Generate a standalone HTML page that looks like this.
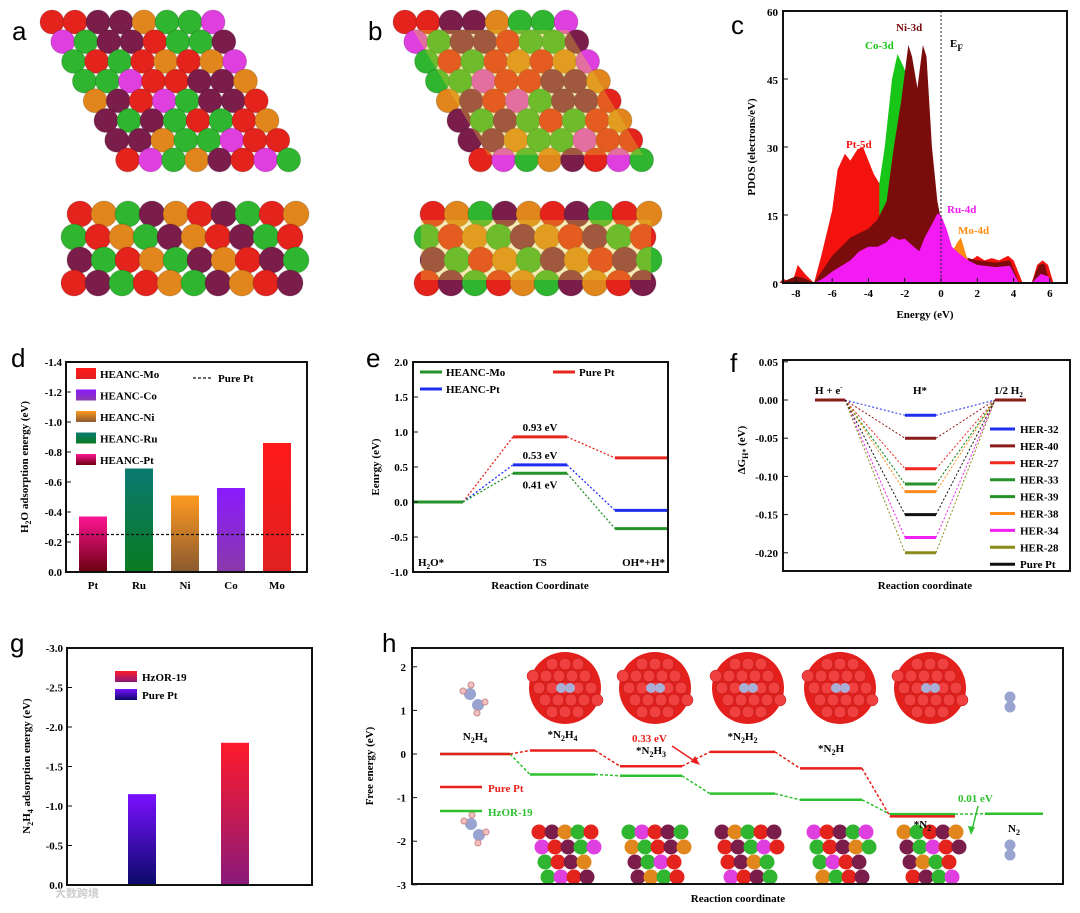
<!DOCTYPE html>
<html><head><meta charset="utf-8"><style>
body{margin:0;background:#fff;}
svg{display:block;font-family:"Liberation Serif","Noto Serif CJK SC",serif;}
.t{font-weight:bold;font-size:11px;}
.let{font-family:"Liberation Sans",sans-serif;font-size:26px;}
</style></head><body>
<svg id="fig" width="1080" height="913" viewBox="0 0 1080 913" xmlns="http://www.w3.org/2000/svg"></svg>
<script>
// ---------- panel c data ----------
const cRedE=[-8.9,-8.7,-8.5,-8.2,-7.9,-7.5,-7,-6.6,-6.3,-6,-5.7,-5.3,-5,-4.6,-4.3,-4,-3.7,-3.4,-3.1,-2.9,-2,-1,0,0.5,1,1.5,2,2.4,2.8,3.2,3.7,4,4.5,5.0,5.3,5.6,5.9,6.2];
const cRedV=[0,1,0.5,0,4,2,0,6,11,16,25,28.5,27,29.5,30,27,24,22,23,23.5,22,20,10,7,7,4.5,6,5,5.5,5,6,5,0,0,4,5,4,0];
const cCoE=[-3.4,-3.1,-2.7,-2.4,-2.1,-1.9,-1.7];
const cCoV=[22,30,45,50.5,48,46,20];
const cNiE=[-8.9,-8,-7.5,-7,-6,-5,-4,-3.5,-3,-2.6,-2.2,-1.8,-1.6,-1.3,-1,-0.8,-0.5,-0.2,0,0.5,1,2,3,3.8,4.3,5.0,5.4,5.7,6];
const cNiV=[0,1.5,1,0,6,10,12,14,18,30,40,52.5,50,43,52.5,50,30,18,14,7,6,5,4.5,5,0,0,4,4.3,0];
const cRuE=[-8.9,-7,-6.5,-6,-5,-4.5,-4,-3.5,-3,-2.7,-2.3,-2,-1.5,-1.2,-0.9,-0.5,-0.2,0,0.3,0.6,1,1.5,2,3,3.8,4.3,5,5.5,5.9,6.1];
const cRuV=[0,0,1,2.5,5,7,8,8,9,10.3,9.5,9.8,8,7,10,13,15.3,15,12,8,6.5,5,4,3.5,3.8,0,0,2,1.5,0];
const cMoE=[0.5,0.7,0.9,1.1,1.4,1.6];
const cMoV=[6,7.5,9,10,6,4];
const cTicksX=[-8,-6,-4,-2,0,2,4,6];
const cTicksY=[0,15,30,45,60];
// ---------- panel d data ----------
const dCats=["Pt","Ru","Ni","Co","Mo"];
const dVals=[-0.37,-0.69,-0.51,-0.56,-0.86];
const dRef=-0.25;
const dTicks=[0,-0.2,-0.4,-0.6,-0.8,-1.0,-1.2,-1.4];
const dLegend=["HEANC-Mo","HEANC-Co","HEANC-Ni","HEANC-Ru","HEANC-Pt"];
// ---------- panel e data ----------
const eSteps=["H2O*","TS","OH*+H*"];
const eMo=[0,0.41,-0.38];
const ePtH=[0,0.53,-0.12];
const ePure=[0,0.93,0.63];
const eTicks=[2.0,1.5,1.0,0.5,0.0,-0.5,-1.0];
// ---------- panel f data ----------
const fNames=["HER-32","HER-40","HER-27","HER-33","HER-39","HER-38","HER-34","HER-28","Pure Pt"];
const fVals=[-0.02,-0.05,-0.09,-0.11,-0.11,-0.12,-0.18,-0.20,-0.15];
const fTicks=[0.05,0,-0.05,-0.10,-0.15,-0.20];
// ---------- panel g data ----------
const gCats=["Pure Pt","HzOR-19"];
const gVals=[-1.15,-1.8];
const gTicks=[0,-0.5,-1.0,-1.5,-2.0,-2.5,-3.0];
// ---------- panel h data ----------
const hSteps=["N2H4","*N2H4","*N2H3","*N2H2","*N2H","*N2","N2"];
const hPure=[0,0.08,-0.28,0.05,-0.33,-1.43];
const hHz=[0,-0.47,-0.5,-0.91,-1.05,-1.38,-1.37];
const hTicks=[2,1,0,-1,-2,-3];

const NS="http://www.w3.org/2000/svg";
const svg=document.getElementById('fig');
function mk(tag,attrs,parent){const e=document.createElementNS(NS,tag);for(const k in attrs)e.setAttribute(k,attrs[k]);(parent||svg).appendChild(e);return e;}
function txt(x,y,s,cls,extra,parent){const e=mk('text',Object.assign({x:x,y:y,class:cls||'t'},extra||{}),parent);e.textContent=s;return e;}
function sub(parent,s){parent.innerHTML=s;}

const defs=mk('defs',{});
function grad(id,top,bot){const g=mk('linearGradient',{id:id,x1:0,y1:0,x2:0,y2:1},defs);mk('stop',{offset:0,'stop-color':top},g);mk('stop',{offset:1,'stop-color':bot},g);}
grad('gPt','#ff1493','#6a0010');grad('gRu','#0a7a72','#0a7a20');grad('gNi','#ff9a20','#8a5a30');grad('gCo','#8a1aff','#8a3aaa');grad('gMo','#ff1a1a','#e02020');
grad('gHz','#ff1a2a','#8a1a7a');grad('gPP','#7a10ff','#0a0a6a');

// ---------- panels a & b ----------
const atomCols=['#e3231c','#2fb52f','#7b1d4b','#e03fe0','#e0861c','#e3231c','#2fb52f','#7b1d4b'];
function slab(ox,name,overlay){
  const g=mk('g',{});
  
  
  for(let r=0;r<8;r++)for(let c=0;c<8;c++){
    const col=atomCols[(r*3+c*5+(r*c)%3)%8];
    mk('circle',{cx:ox+52+c*23+r*10.8,cy:22+r*19.7,r:12,fill:col,stroke:'rgba(0,0,0,0.15)'},g);
  }
  for(let r=0;r<4;r++)for(let c=0;c<10;c++){
    const col=atomCols[(r*5+c*3+(r+c)%2)%8];
    mk('circle',{cx:ox+80+c*24-(r%2)*6,cy:214+r*23,r:13,fill:col,stroke:'rgba(0,0,0,0.15)'},g);
  }
  if(overlay){
    mk('path',{d:`M${ox+60} 30 L${ox+215} 30 L${ox+290} 155 L${ox+135} 155 Z`,fill:'rgba(230,200,40,0.35)'},g);
    mk('rect',{x:ox+68,y:220,width:230,height:60,fill:'rgba(230,200,40,0.35)'},g);
  }
}
slab(0,'structure-a',false);
slab(353,'structure-b',true);
let L;
L=txt(12,40,'a','let');
L=txt(368,40,'b','let');

// ---------- panel c ----------
(function(){
  const X=e=>941+e*18.14, Y=v=>283-v*4.533;
  const g=mk('g',{});
  function area(E,V,fill,name){
    let d=`M${X(E[0])} ${Y(0)}`;E.forEach((e,i)=>d+=` L${X(e)} ${Y(V[i])}`);d+=` L${X(E[E.length-1])} ${Y(0)} Z`;
    const p=mk('path',{d:d,fill:fill},g);
  }
  area(cRedE,cRedV,'#f4120e','pdos-pt-5d');
  area(cCoE,cCoV,'#17c617','pdos-co-3d');
  area(cNiE,cNiV,'#7a0c0c','pdos-ni-3d');
  area(cMoE,cMoV,'#ff8c10','pdos-mo-4d');
  area(cRuE,cRuV,'#f41af4','pdos-ru-4d');
  mk('line',{x1:X(0),y1:11,x2:X(0),y2:283,stroke:'#222','stroke-dasharray':'2,2'},g);
  mk('rect',{x:783,y:11,width:284,height:272,fill:'none',stroke:'#111','stroke-width':2},g);
  cTicksX.forEach(t=>{mk('line',{x1:X(t),y1:283,x2:X(t),y2:278,stroke:'#111'},g);const e=txt(X(t),297,t,'t',{'text-anchor':'middle','font-size':13});});
  cTicksY.forEach(t=>{mk('line',{x1:783,y1:Y(t),x2:788,y2:Y(t),stroke:'#111'},g);const e=txt(778,Y(t)+5,t,'t',{'text-anchor':'end','font-size':13});});
  let e=txt(925,318,'Energy (eV)','t',{'text-anchor':'middle','font-size':16});
  e=txt(0,0,'PDOS (electrons/eV)','t',{'text-anchor':'middle','font-size':15,transform:'translate(755,147) rotate(-90)'});
  e=txt(896,31,'Ni-3d','t',{fill:'#7a0c0c','font-size':15});
  e=txt(865,49,'Co-3d','t',{fill:'#17c617','font-size':15});
  e=txt(846,148,'Pt-5d','t',{fill:'#f4120e','font-size':15});
  e=txt(947,213,'Ru-4d','t',{fill:'#f41af4','font-size':15});
  e=txt(958,234,'Mo-4d','t',{fill:'#ff8c10','font-size':15});
  e=txt(950,47,'E','t',{'font-size':14});sub(e,'E<tspan font-size="9" dy="4">F</tspan>');
  e=txt(731,34,'c','let');
})();

// ---------- panel d ----------
(function(){
  const Y=v=>572-(-v)/1.4*210;
  const g=mk('g',{});
  const fills=['url(#gPt)','url(#gRu)','url(#gNi)','url(#gCo)','url(#gMo)'];
  dCats.forEach((c,i)=>{const cx=93+i*46;const b=mk('rect',{x:cx-14,y:Y(dVals[i]),width:28,height:572-Y(dVals[i]),fill:fills[i]},g);
    const t=txt(cx,589,c,'t',{'text-anchor':'middle','font-size':12});});
  const rl=mk('line',{x1:66,y1:Y(dRef),x2:307,y2:Y(dRef),stroke:'#111','stroke-dasharray':'3,2','stroke-width':1.3},g);
  mk('rect',{x:66,y:362,width:241,height:210,fill:'none',stroke:'#111','stroke-width':2},g);
  dTicks.forEach(t=>{mk('line',{x1:66,y1:Y(t),x2:71,y2:Y(t),stroke:'#111'},g);const e=txt(62,Y(t)+4,t.toFixed(1),'t',{'text-anchor':'end'});});
  const lf=['url(#gMo)','url(#gCo)','url(#gNi)','url(#gRu)','url(#gPt)'];
  dLegend.forEach((n,i)=>{const y=374+i*21.5;const le=mk('g',{},g);
    mk('rect',{x:76,y:y-6,width:20,height:11,fill:lf[i]},le);txt(100,y+4,n,'t',{'font-size':11},le);});
  mk('line',{x1:193,y1:378,x2:213,y2:378,stroke:'#111','stroke-dasharray':'3,2','stroke-width':1.3},g);
  let e=txt(218,382,'Pure Pt','t',{'font-size':11});
  e=txt(0,0,'','t',{'text-anchor':'middle','font-size':12,transform:'translate(28,467) rotate(-90)'});sub(e,'H<tspan font-size="8" dy="3">2</tspan><tspan dy="-3">O adsorption energy (eV)</tspan>');
  e=txt(11,367,'d','let');
})();

// ---------- panel e ----------
(function(){
  const Y=v=>362+(2-v)/3*210;
  const xs=[[413,463],[513,567],[615,668]];
  const g=mk('g',{});
  const series=[[ePure,'#e8261e','pure-pt'],[ePtH,'#1f2ff0','heanc-pt'],[eMo,'#25922a','heanc-mo']];
  series.forEach(([vals,col,nm])=>{
    vals.forEach((v,i)=>{const l=mk('line',{x1:xs[i][0],y1:Y(v),x2:xs[i][1],y2:Y(v),stroke:col,'stroke-width':3},g);
      if(i>0)mk('line',{x1:xs[i-1][1],y1:Y(vals[i-1]),x2:xs[i][0],y2:Y(v),stroke:col,'stroke-dasharray':'2,2','stroke-width':1.3},g);});
  });
  let e=txt(540,Y(ePure[1])-6,ePure[1].toFixed(2)+' eV','t',{'text-anchor':'middle','font-size':11});
  e=txt(540,Y(ePtH[1])-6,ePtH[1].toFixed(2)+' eV','t',{'text-anchor':'middle','font-size':11});
  e=txt(540,Y(eMo[1])+15,eMo[1].toFixed(2)+' eV','t',{'text-anchor':'middle','font-size':11});
  mk('rect',{x:413,y:362,width:255,height:210,fill:'none',stroke:'#111','stroke-width':2},g);
  eTicks.forEach(t=>{mk('line',{x1:413,y1:Y(t),x2:418,y2:Y(t),stroke:'#111'},g);const e=txt(408,Y(t)+4,t.toFixed(1),'t',{'text-anchor':'end'});});
  e=txt(418,566,'','t');sub(e,'H<tspan font-size="7" dy="3">2</tspan><tspan dy="-3">O*</tspan>');
  e=txt(540,566,'TS','t',{'text-anchor':'middle'});
  e=txt(665,566,'OH*+H*','t',{'text-anchor':'end'});
  e=txt(540,589,'Reaction Coordinate','t',{'text-anchor':'middle','font-size':13});
  e=txt(0,0,'Eenrgy (eV)','t',{'text-anchor':'middle','font-size':13,transform:'translate(379,467) rotate(-90)'});
  const leg=[[420,372,'#25922a','HEANC-Mo'],[420,389,'#1f2ff0','HEANC-Pt'],[553,372,'#e8261e','Pure Pt']];
  leg.forEach(([x,y,c,n])=>{const le=mk('g',{},g);
    mk('line',{x1:x,y1:y,x2:x+22,y2:y,stroke:c,'stroke-width':3},le);txt(x+26,y+4,n,'t',{},le);});
  e=txt(366,367,'e','let');
})();

// ---------- panel f ----------
(function(){
  const Y=v=>400-v/0.05*38.2;
  const cols=['#1f2ff0','#8b1a1a','#f0281e','#25922a','#25922a','#ff8c1a','#f020f0','#8b8b1a','#111'];
  const g=mk('g',{});
  fVals.forEach((v,i)=>{
    mk('line',{x1:845,y1:Y(0),x2:905,y2:Y(v),stroke:cols[i],'stroke-dasharray':'2,2'},g);
    mk('line',{x1:936,y1:Y(v),x2:995,y2:Y(0),stroke:cols[i],'stroke-dasharray':'2,2'},g);
    const l=mk('line',{x1:905,y1:Y(v),x2:936,y2:Y(v),stroke:cols[i],'stroke-width':3},g);
    const le=mk('g',{},g);
    const y=429+i*16.9;mk('line',{x1:990,y1:y,x2:1015,y2:y,stroke:cols[i],'stroke-width':3},le);txt(1020,y+4,fNames[i],'t',{'font-size':11},le);
  });
  mk('line',{x1:815,y1:Y(0),x2:845,y2:Y(0),stroke:'#8b1a1a','stroke-width':3},g);
  mk('line',{x1:995,y1:Y(0),x2:1026,y2:Y(0),stroke:'#8b1a1a','stroke-width':3},g);
  mk('rect',{x:783,y:360,width:287,height:211,fill:'none',stroke:'#111','stroke-width':2},g);
  fTicks.forEach(t=>{mk('line',{x1:783,y1:Y(t),x2:788,y2:Y(t),stroke:'#111'},g);const e=txt(778,Y(t)+4,t.toFixed(2),'t',{'text-anchor':'end','font-size':10});});
  let e=txt(815,394,'','t');sub(e,'H + e<tspan font-size="7" dy="-5">-</tspan>');
  e=txt(920,394,'H*','t',{'text-anchor':'middle'});
  e=txt(994,394,'','t');sub(e,'1/2 H<tspan font-size="7" dy="3">2</tspan>');
  e=txt(925,589,'Reaction coordinate','t',{'text-anchor':'middle','font-size':13});
  e=txt(0,0,'','t',{'text-anchor':'middle','font-size':13,transform:'translate(745,450) rotate(-90)'});sub(e,'ΔG<tspan font-size="8" dy="3">H*</tspan><tspan dy="-3"> (eV)</tspan>');
  e=txt(730,372,'f','let');
})();

// ---------- panel g ----------
(function(){
  const Y=v=>885-(-v)/3*237;
  const g=mk('g',{});
  const fills=['url(#gPP)','url(#gHz)'];const xs=[128,221];
  gCats.forEach((c,i)=>{const b=mk('rect',{x:xs[i],y:Y(gVals[i]),width:28,height:885-Y(gVals[i]),fill:fills[i]},g);});
  mk('rect',{x:67,y:648,width:245,height:237,fill:'none',stroke:'#111','stroke-width':2},g);
  gTicks.forEach(t=>{mk('line',{x1:67,y1:Y(t),x2:72,y2:Y(t),stroke:'#111'},g);const e=txt(63,Y(t)+4,t.toFixed(1),'t',{'text-anchor':'end'});});
  [['url(#gHz)','HzOR-19',677],['url(#gPP)','Pure Pt',695]].forEach(([f,n,y])=>{const le=mk('g',{},g);
    mk('rect',{x:115,y:y-6,width:22,height:11,fill:f},le);txt(142,y+4,n,'t',{'font-size':12},le);});
  let e=txt(0,0,'','t',{'text-anchor':'middle','font-size':12,transform:'translate(30,766) rotate(-90)'});sub(e,'N<tspan font-size="8" dy="3">2</tspan><tspan dy="-3">H</tspan><tspan font-size="8" dy="3">4</tspan><tspan dy="-3"> adsorption energy (eV)</tspan>');
  e=txt(10,652,'g','let');
  e=txt(55,897,'大数跨境','t',{'font-family':'"Noto Sans CJK SC",sans-serif','font-size':20,fill:'#ccc'});
})();

// ---------- panel h ----------
(function(){
  const Y=v=>754-v*43.6;
  const xs=[[440,510],[530,595],[620,682],[710,775],[800,862],[890,955],[985,1043]];
  const g=mk('g',{});
  [565,655,748,840,930].forEach((cx,i)=>{
    const s=mk('g',{},g);
    mk('circle',{cx:cx,cy:688,r:36,fill:'#e3201c'},s);
    for(let a=-2;a<=2;a++)for(let b=-2;b<=2;b++)if(a*a+b*b<6)mk('circle',{cx:cx+a*13+(b%2)*6,cy:688+b*12,r:6,fill:'#f04040',stroke:'#b01010','stroke-width':0.5},s);
    mk('circle',{cx:cx-4,cy:688,r:5,fill:'#a8b0d8'},s);mk('circle',{cx:cx+5,cy:688,r:5,fill:'#a8b0d8'},s);
    const b2=mk('g',{},g);
    for(let r=0;r<4;r++)for(let c=0;c<5-Math.floor(r/2);c++){const col=atomCols[(r*3+c*2+i)%8];mk('circle',{cx:cx-26+c*13+r*3,cy:832+r*15,r:7.5,fill:col},b2);}
  });
  [[475,700],[476,830],[1010,702],[1010,850]].forEach(([x,y],i)=>{
    const m=mk('g',{},g);
    if(i<2){mk('circle',{cx:x-5,cy:y-6,r:6,fill:'#9aa4d0'},m);mk('circle',{cx:x+3,cy:y+5,r:6,fill:'#9aa4d0'},m);[[-12,-9],[-4,-15],[10,2],[2,13]].forEach(([dx,dy])=>mk('circle',{cx:x+dx,cy:y+dy,r:3,fill:'#f2c0c0',stroke:'#c88'},m));}
    else{mk('circle',{cx:x,cy:y-5,r:5.5,fill:'#9aa4d0'},m);mk('circle',{cx:x,cy:y+5,r:5.5,fill:'#9aa4d0'},m);}
  });
  function series(vals,col,dash,nm){
    vals.forEach((v,i)=>{const l=mk('line',{x1:xs[i][0],y1:Y(v),x2:xs[i][1],y2:Y(v),stroke:col,'stroke-width':2.5},g);
      if(i>0)mk('line',{x1:xs[i-1][1],y1:Y(vals[i-1]),x2:xs[i][0],y2:Y(v),stroke:col,'stroke-dasharray':dash,'stroke-width':1.5},g);});
  }
  series(hHz,'#2fc02f','3,2','hzor-19');
  series(hPure,'#e8201c','3,2','pure-pt');
  const labels=[['N','2','H','4'],['*N','2','H','4'],['*N','2','H','3'],['*N','2','H','2'],['*N','2','H',''],['*N','2','',''],['N','2','','']];
  const ly=[740,738,754,740,752,828,832];
  labels.forEach((l,i)=>{const cx=(xs[i][0]+xs[i][1])/2;const e=txt(cx,ly[i],'','t',{'text-anchor':'middle','font-size':12});sub(e,`${l[0]}<tspan font-size="8" dy="3">${l[1]}</tspan><tspan dy="-3">${l[2]}</tspan><tspan font-size="8" dy="3">${l[3]}</tspan>`);});
  let e=txt(632,742,'0.33 eV','t',{fill:'#e8201c','font-size':14});
  mk('path',{d:'M672 746 L696 762',stroke:'#e8201c','stroke-width':1.5,fill:'none'},g);mk('path',{d:'M700 765 L691 762 L695 756 Z',fill:'#e8201c'},g);
  e=txt(958,802,'0.01 eV','t',{fill:'#2fc02f','font-size':14});
  mk('path',{d:'M978 806 L972 830',stroke:'#2fc02f','stroke-width':1.5,fill:'none'},g);mk('path',{d:'M971 835 L968 826 L975 827 Z',fill:'#2fc02f'},g);
  [['#e8201c','Pure Pt',787],['#2fc02f','HzOR-19',811]].forEach(([c,n,y])=>{const le=mk('g',{},g);
    mk('line',{x1:440,y1:y,x2:482,y2:y,stroke:c,'stroke-width':2.5},le);txt(488,y+5,n,'t',{fill:c,'font-size':14},le);});
  mk('rect',{x:412,y:648,width:651,height:236,fill:'none',stroke:'#111','stroke-width':2},g);
  hTicks.forEach(t=>{mk('line',{x1:412,y1:Y(t),x2:417,y2:Y(t),stroke:'#111'},g);const e=txt(406,Y(t)+4,t,'t',{'text-anchor':'end','font-size':12});});
  e=txt(738,902,'Reaction coordinate','t',{'text-anchor':'middle','font-size':14});
  e=txt(0,0,'Free energy (eV)','t',{'text-anchor':'middle','font-size':15,transform:'translate(373,766) rotate(-90)'});
  e=txt(382,652,'h','let');
})();
</script>
</body></html>
